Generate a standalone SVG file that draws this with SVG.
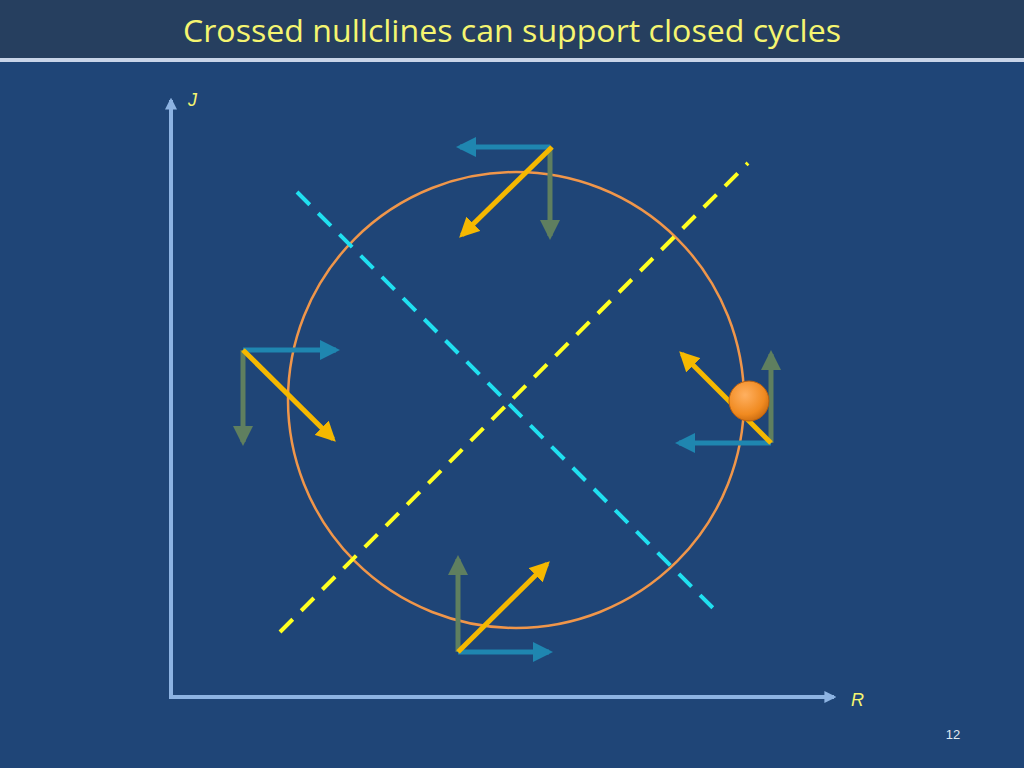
<svg xmlns="http://www.w3.org/2000/svg" width="1024" height="768" viewBox="0 0 1024 768">
<defs>
<marker id="mA" viewBox="0 0 10 10" refX="8" refY="5" markerWidth="3" markerHeight="3" orient="auto"><path d="M0,0L10,5L0,10z" fill="#8db3e2"/></marker>
<marker id="mY" viewBox="0 0 10 10" refX="8" refY="5" markerWidth="4" markerHeight="4" orient="auto"><path d="M0,0L10,5L0,10z" fill="#f5b800"/></marker>
<marker id="mB" viewBox="0 0 10 10" refX="8" refY="5" markerWidth="4" markerHeight="4" orient="auto"><path d="M0,0L10,5L0,10z" fill="#1f86b0"/></marker>
<marker id="mG" viewBox="0 0 10 10" refX="8" refY="5" markerWidth="4" markerHeight="4" orient="auto"><path d="M0,0L10,5L0,10z" fill="#5f7f5f"/></marker>
<radialGradient id="ball" cx="0.4" cy="0.35" r="0.7"><stop offset="0" stop-color="#ffb060"/><stop offset="0.7" stop-color="#f08a20"/><stop offset="1" stop-color="#c86a10"/></radialGradient>
</defs>
<style>
.y{stroke:#f5b800;stroke-width:5;fill:none;marker-end:url(#mY)}
.b{stroke:#1f86b0;stroke-width:5;fill:none;marker-end:url(#mB)}
.g{stroke:#5f7f5f;stroke-width:5;fill:none;marker-end:url(#mG)}
.ax{stroke:#8db3e2;stroke-width:4;fill:none}
.lab{font-family:"Liberation Sans",sans-serif;font-style:italic;font-size:18px;fill:#f5f570}
</style>
<rect width="1024" height="768" fill="#1f4577"/>
<rect width="1024" height="58" fill="#263f5f"/>
<rect y="58" width="1024" height="4" fill="#c8d4e8"/>
<text x="512" y="42" text-anchor="middle" font-family="'Open Sans','Liberation Sans',sans-serif" font-size="31" fill="#f5f570" textLength="658" lengthAdjust="spacingAndGlyphs">Crossed nullclines can support closed cycles</text>
<g id="axes">
<path class="ax" d="M171,697V100" marker-end="url(#mA)"/>
<path class="ax" d="M169,697H834" marker-end="url(#mA)"/>
<text class="lab" x="188" y="106">J</text>
<text class="lab" x="851" y="706">R</text>
</g>
<g id="cycle"><circle cx="516" cy="400" r="228" fill="none" stroke="#f0964a" stroke-width="2.5"/></g>
<g id="nullclines">
<line x1="280" y1="632" x2="748" y2="163" stroke="#ffff20" stroke-width="4" stroke-dasharray="18,12"/>
<line x1="297" y1="192" x2="717" y2="612" stroke="#20e0f0" stroke-width="4" stroke-dasharray="18,12"/>
</g>
<g id="connectors">
<path class="b" d="M550,147H460"/><path class="g" d="M550,147V236"/><path class="y" d="M552,147L462,235"/>
<path class="b" d="M243,350H336"/><path class="g" d="M243,350V442"/><path class="y" d="M243,350L333,439"/>
<path class="g" d="M458,652V559"/><path class="b" d="M458,652H549"/><path class="y" d="M458,652L547,564"/>
<path class="g" d="M771,443V354"/><path class="b" d="M771,443H679"/><path class="y" d="M771,443L682,354"/>
</g>
<g id="ball"><circle cx="749" cy="401" r="20" fill="url(#ball)" stroke="#b86010" stroke-width="1"/></g>
<text x="953" y="739" text-anchor="middle" font-family="'Liberation Sans',sans-serif" font-size="13" fill="#e0e8f0">12</text>
</svg>
